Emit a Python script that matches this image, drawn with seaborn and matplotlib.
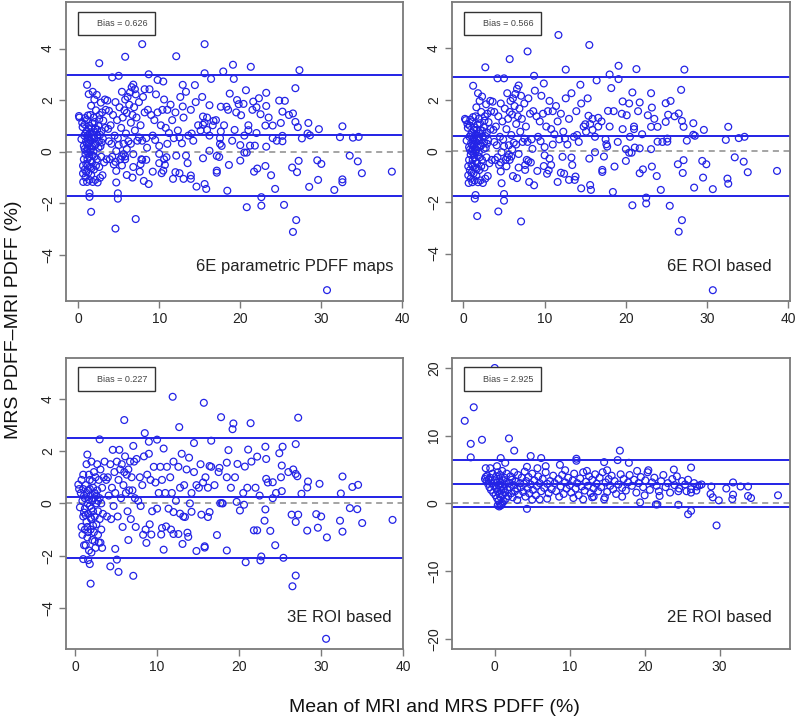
import matplotlib
matplotlib.use("Agg")
import matplotlib.pyplot as plt
from matplotlib.lines import Line2D
import seaborn as sns
import pandas as pd

# ---- data (mean PDFF, MRS - MRI difference) ----
panel_names = ["6E parametric PDFF maps", "6E ROI based", "3E ROI based", "2E ROI based"]
bias = [0.626, 0.566, 0.227, 2.925]
lower_loa = [-1.716, -1.77, -2.07, -0.49]
upper_loa = [2.968, 2.87, 2.52, 6.37]

pts_6e_maps = [
    (7.9, 4.17), (15.6, 4.17), (5.8, 3.68), (12.1, 3.70), (2.6, 3.43), (19.1, 3.37), (21.3, 3.29),
    (27.3, 3.16), (17.9, 3.11), (15.6, 3.04), (8.7, 3.0), (5.0, 2.94), (4.2, 2.88), (16.4, 2.82),
    (19.2, 2.82), (9.8, 2.78), (10.5, 2.72), (26.8, 2.46), (1.1, 2.59), (12.9, 2.59), (14.4, 2.58),
    (20.7, 2.38), (23.2, 2.28), (18.7, 2.25), (1.3, 2.23), (7.0, 2.42), (8.2, 2.42), (19.6, 2.0),
    (22.3, 2.07), (24.8, 1.98), (25.5, 1.97), (20.4, 1.85), (21.6, 1.94), (19.8, 1.84), (23.2, 1.77),
    (16.2, 1.80), (17.6, 1.74), (18.3, 1.74), (22.0, 1.72), (12.9, 1.75), (25.2, 1.55), (26.5, 1.48),
    (20.1, 1.41), (22.5, 1.45), (15.4, 1.36), (26.8, 1.15), (16.7, 1.19), (15.4, 1.04), (25.0, 1.11),
    (23.1, 1.01), (24.0, 1.01), (32.6, 0.98), (29.7, 0.87), (28.4, 1.11), (27.1, 0.95), (19.3, 0.84),
    (21.0, 0.83), (15.9, 0.84), (17.6, 0.78), (28.3, 0.70), (28.6, 0.63), (27.6, 0.51), (24.0, 0.52),
    (25.2, 0.61), (25.2, 0.40), (32.3, 0.56), (33.9, 0.54), (34.6, 0.57), (23.2, 0.19), (20.0, 0.25),
    (21.2, 0.23), (21.8, 0.23), (17.5, 0.30), (17.7, 0.22), (16.2, 0.03), (20.5, -0.04), (20.8, -0.04),
    (33.5, -0.16), (17.1, -0.17), (17.4, -0.21), (15.4, -0.26), (20.0, -0.35), (27.2, -0.36),
    (29.5, -0.34), (30.0, -0.48), (34.5, -0.38), (18.6, -0.52), (26.4, -0.62), (27.0, -0.80),
    (35.0, -0.84), (38.7, -0.78), (23.1, -0.56), (23.8, -0.92), (22.1, -0.66), (21.7, -0.78),
    (17.1, -0.74), (17.1, -0.82), (29.6, -1.10), (32.6, -1.08), (32.6, -1.19), (28.5, -1.37),
    (31.6, -1.49), (24.3, -1.45), (18.4, -1.52), (15.6, -1.26), (15.8, -1.45), (14.6, -1.36),
    (22.6, -1.77), (20.8, -2.16), (22.6, -2.10), (25.4, -2.07), (26.9, -2.66), (26.5, -3.12),
    (30.7, -5.38), (7.1, -2.62), (4.6, -2.99), (1.6, -2.34), (1.4, -1.62), (1.4, -1.76), (4.9, -1.62),
    (4.9, -1.83), (4.7, -1.2), (6.0, -0.91), (6.7, -1.01), (8.1, -1.14), (8.7, -1.26), (9.2, -0.78),
    (7.6, -0.78), (10.5, -0.74), (10.3, -0.84), (11.7, -1.06), (12.0, -0.80), (12.5, -0.84),
    (13.0, -1.06), (13.9, -0.93), (13.9, -1.06), (13.5, -0.45), (12.1, -0.16), (13.3, -0.16),
    (10.0, -0.09), (10.0, -0.45), (10.6, -0.30), (10.7, -0.52), (10.9, -0.22), (7.9, -0.32),
    (8.4, -0.32), (7.7, -0.49), (6.8, -0.10), (5.4, -0.19), (5.8, -0.19), (5.4, -0.54), (5.8, -0.30),
    (4.7, -0.75),
    (0.1, 1.38), (0.15, 1.32), (0.4, 0.48), (0.5, 1.12), (0.55, 0.95), (0.6, -0.55), (0.6, -0.85),
    (0.62, -1.18), (0.7, 0.22), (0.7, -0.3), (0.75, 0.62), (0.8, 1.05), (0.8, -0.7), (0.85, 1.3),
    (0.9, -0.1), (0.9, -1.0), (0.95, 0.38), (1.0, 0.02), (1.0, -0.48), (1.05, 1.22), (1.05, 0.8),
    (1.1, -1.18), (1.15, 0.1), (1.15, -0.3), (1.2, 1.4), (1.25, 0.6), (1.25, -0.82), (1.3, 0.3),
    (1.35, -0.2), (1.35, 1.0), (1.4, -1.1), (1.45, 0.7), (1.45, 0.0), (1.5, 1.42), (1.5, -0.6),
    (1.55, 0.42), (1.6, 1.78), (1.6, -0.9), (1.65, 0.9), (1.7, 0.2), (1.7, -0.42), (1.75, 1.1),
    (1.8, 2.32), (1.8, -1.18), (1.85, 0.6), (1.9, 0.0), (1.9, 1.32), (1.95, -0.7), (2.0, 2.02),
    (2.0, 0.5), (2.1, -1.1), (2.1, 0.9), (2.2, 1.6), (2.2, 0.3), (2.3, -0.3), (2.3, 2.2), (2.4, 0.62),
    (2.4, -1.2), (2.5, 1.0), (2.55, 0.4), (2.6, -0.6), (2.65, 1.42), (2.7, -1.02), (2.75, 0.2),
    (2.8, 1.9), (2.85, -0.2), (2.9, 0.8), (2.95, 1.52), (3.0, -0.92), (3.05, 0.5), (3.1, 1.2),
    (3.2, -0.42), (3.3, 2.02), (3.35, 0.92), (3.4, 1.62), (3.5, -0.3), (1.2, 0.5), (1.3, 0.9),
    (1.6, 0.1), (1.7, 0.55), (2.0, -0.2), (2.1, 0.25), (1.1, 0.3), (1.4, 0.45), (0.9, 0.7),
    (1.8, -0.15), (2.2, -0.55), (1.5, -0.35), (1.0, -0.8), (2.5, 0.15), (2.7, 0.65), (1.25, -0.05),
    (1.65, -0.65), (0.8, 0.1), (2.05, 1.15), (2.35, 0.85), (2.6, 1.25), (1.95, 0.75), (1.15, -0.55),
    (2.9, 0.35),
    (3.6, 1.98), (3.7, 0.88), (3.8, 1.58), (3.9, -0.3), (4.0, 1.02), (4.1, 0.3), (4.3, 1.42),
    (4.4, -0.5), (4.5, 0.62), (4.6, 1.92), (4.7, 0.02), (4.8, 1.22), (4.9, 0.52), (5.1, 1.72),
    (5.2, -0.3), (5.3, 0.92), (5.4, 2.32), (5.5, 1.32), (5.6, 0.3), (5.7, 1.6), (5.8, 2.02), (5.9, 0.7),
    (6.0, 1.5), (6.1, 2.12), (6.2, 0.4), (6.3, 1.82), (6.4, 2.3), (6.5, 1.12), (6.6, 2.5), (6.7, 1.42),
    (6.8, 2.6), (6.9, 1.72), (7.0, 0.82), (7.1, 2.22), (7.2, 1.32), (7.3, 0.42), (7.5, 1.92),
    (7.7, 1.02), (7.9, 0.42), (8.0, 2.12), (8.2, 1.52), (8.4, 0.52), (8.6, 1.62), (8.8, 2.42),
    (9.0, 1.42), (9.2, 0.62), (9.4, 1.22), (9.6, 2.22), (9.8, 1.52), (10.0, 0.22), (10.2, 1.02),
    (10.4, 1.62), (10.6, 2.02), (10.8, 0.92), (11.0, 1.62), (11.2, 0.72), (11.4, 1.82), (11.6, 1.22),
    (11.8, 0.52), (12.0, 1.52), (12.3, 0.82), (12.6, 2.12), (12.8, 0.32), (13.0, 1.32), (13.3, 2.32),
    (13.6, 0.62), (13.9, 1.62), (14.2, 0.42), (14.5, 1.92), (14.8, 1.02), (15.1, 0.82), (15.3, 2.12),
    (15.6, 1.12), (15.9, 1.32), (16.2, 0.62), (16.6, 1.02), (17.0, 1.22), (17.5, 0.52), (18.0, 1.02),
    (18.5, 1.62), (19.0, 0.42), (19.5, 1.52), (20.5, 0.62), (21.0, 1.02), (21.5, 1.62), (22.0, 0.72),
    (23.5, 1.32), (24.5, 0.42), (26.0, 1.42), (5.0, 0.25), (6.5, 0.3), (7.5, 0.55), (8.5, 0.15),
    (9.5, 0.45), (11.0, 0.3), (12.5, 0.55), (14.0, 0.7), (3.8, 0.4), (4.2, -0.2), (4.6, -0.4),
    (5.6, -0.1), (6.0, 0.1), (6.8, -0.6), (7.8, -0.3),
]

pts_6e_roi = [
    (11.7, 4.52), (15.5, 4.13), (7.9, 3.88), (5.7, 3.58), (2.7, 3.26), (19.1, 3.32), (12.6, 3.17),
    (21.3, 3.19), (27.2, 3.17), (18.0, 2.98), (8.7, 2.93), (4.2, 2.83), (5.0, 2.83), (16.4, 2.75),
    (19.1, 2.80), (9.9, 2.63), (26.8, 2.38), (1.2, 2.54), (14.4, 2.58), (20.8, 2.28), (23.1, 2.25),
    (18.2, 2.45), (24.9, 1.86), (25.5, 1.95), (21.7, 1.89), (19.6, 1.93), (20.4, 1.85), (23.2, 1.69),
    (17.8, 1.56), (26.5, 1.46), (25.2, 1.41), (20.1, 1.39), (22.7, 1.39), (15.4, 1.37), (26.9, 1.17),
    (16.6, 1.29), (15.0, 1.04), (24.9, 1.13), (23.1, 0.94), (23.9, 0.94), (32.6, 0.94), (29.6, 0.82),
    (28.3, 1.08), (27.1, 0.94), (19.6, 0.85), (21.0, 0.85), (15.9, 0.82), (28.3, 0.63), (28.5, 0.59),
    (27.5, 0.40), (23.9, 0.36), (25.1, 0.48), (25.1, 0.36), (32.3, 0.43), (33.9, 0.50), (34.6, 0.55),
    (23.1, 0.07), (20.0, 0.07), (21.1, 0.13), (21.7, 0.10), (17.6, 0.26), (17.7, 0.17), (16.2, -0.05),
    (20.4, -0.07), (20.7, -0.07), (33.4, -0.25), (17.3, -0.22), (15.5, -0.30), (20.0, -0.39),
    (27.1, -0.36), (29.4, -0.39), (29.9, -0.52), (34.5, -0.42), (18.6, -0.61), (26.4, -0.52),
    (27.0, -0.86), (35.0, -0.83), (38.6, -0.78), (23.2, -0.61), (23.8, -0.98), (22.1, -0.72),
    (21.7, -0.87), (17.1, -0.74), (17.1, -0.82), (29.5, -1.04), (32.5, -1.08), (32.6, -1.28),
    (28.4, -1.43), (30.7, -1.49), (24.3, -1.52), (18.4, -1.60), (15.6, -1.33), (15.7, -1.52),
    (14.5, -1.46), (22.5, -1.82), (20.8, -2.12), (22.5, -2.05), (25.4, -2.14), (26.9, -2.70),
    (26.5, -3.15), (30.7, -5.43), (7.1, -2.75), (4.3, -2.36), (1.7, -2.54), (1.5, -1.72), (1.4, -1.86),
    (5.0, -1.68), (5.0, -1.94), (4.7, -1.26), (6.1, -0.98), (6.6, -1.06), (8.1, -1.21), (8.7, -1.34),
    (9.1, -0.78), (7.6, -0.74), (10.5, -0.76), (10.3, -0.89), (11.6, -1.21), (12.0, -0.85),
    (12.4, -0.89), (13.0, -1.13), (13.8, -1.00), (13.7, -1.13), (13.4, -0.55), (12.2, -0.23),
    (13.3, -0.26), (10.0, -0.17), (9.9, -0.59), (10.6, -0.30), (10.8, -0.55), (8.0, -0.40),
    (8.3, -0.45), (7.6, -0.55), (6.8, -0.12), (5.4, -0.25), (5.9, -0.22), (5.3, -0.60), (5.7, -0.35),
    (4.6, -0.80),
    (0.2, 1.25), (0.3, 1.2), (0.4, 0.4), (0.5, 1.05), (0.55, 0.9), (0.6, -0.6), (0.6, -0.95),
    (0.65, -1.25), (0.7, 0.15), (0.7, -0.35), (0.75, 0.55), (0.8, 0.98), (0.8, -0.75), (0.85, 1.22),
    (0.9, -0.15), (0.9, -1.08), (0.95, 0.3), (1.0, -0.02), (1.0, -0.52), (1.05, 1.15), (1.05, 0.72),
    (1.1, -1.22), (1.15, 0.05), (1.15, -0.35), (1.2, 1.32), (1.25, 0.52), (1.25, -0.88), (1.3, 0.22),
    (1.35, -0.25), (1.35, 0.92), (1.4, -1.15), (1.45, 0.62), (1.45, -0.05), (1.5, 1.35), (1.5, -0.65),
    (1.55, 0.35), (1.6, 1.7), (1.6, -0.95), (1.65, 0.82), (1.7, 0.15), (1.7, -0.48), (1.75, 1.02),
    (1.8, 2.25), (1.8, -1.22), (1.85, 0.52), (1.9, -0.05), (1.9, 1.25), (1.95, -0.75), (2.0, 1.95),
    (2.0, 0.42), (2.1, -1.15), (2.1, 0.82), (2.2, 1.52), (2.2, 0.22), (2.3, -0.35), (2.3, 2.12),
    (2.4, 0.55), (2.4, -1.25), (2.5, 0.92), (2.55, 0.32), (2.6, -0.65), (2.65, 1.35), (2.7, -1.08),
    (2.75, 0.12), (2.8, 1.82), (2.85, -0.25), (2.9, 0.72), (2.95, 1.45), (3.0, -0.98), (3.05, 0.42),
    (3.1, 1.12), (3.2, -0.48), (3.3, 1.95), (3.35, 0.85), (3.4, 1.55), (3.5, -0.35), (1.2, 0.42),
    (1.3, 0.82), (1.6, 0.05), (1.7, 0.48), (2.0, -0.25), (2.1, 0.18), (1.1, 0.22), (1.4, 0.38),
    (0.9, 0.62), (1.8, -0.2), (2.2, -0.6), (1.5, -0.4), (1.0, -0.85), (2.5, 0.08), (2.7, 0.58),
    (1.25, -0.1), (1.65, -0.7), (0.8, 0.05), (2.05, 1.08), (2.35, 0.78), (2.6, 1.18), (1.95, 0.68),
    (1.15, -0.6), (2.9, 0.28),
    (3.6, 1.92), (3.7, 0.82), (3.8, 1.52), (3.9, -0.35), (4.0, 0.95), (4.1, 0.22), (4.3, 1.35),
    (4.4, -0.55), (4.5, 0.55), (4.6, 1.85), (4.7, -0.05), (4.8, 1.15), (4.9, 0.45), (5.1, 1.65),
    (5.2, -0.35), (5.3, 0.85), (5.4, 2.25), (5.5, 1.25), (5.6, 0.22), (5.7, 1.52), (5.8, 1.95),
    (5.9, 0.62), (6.0, 1.42), (6.1, 2.05), (6.2, 0.32), (6.3, 1.75), (6.4, 2.22), (6.5, 1.05),
    (6.6, 2.42), (6.7, 1.35), (6.8, 2.55), (6.9, 1.65), (7.0, 0.75), (7.1, 2.15), (7.2, 1.25),
    (7.3, 0.35), (7.5, 1.85), (7.7, 0.95), (7.9, 0.35), (8.0, 2.05), (8.2, 1.45), (8.4, 0.45),
    (8.6, 1.55), (8.8, 2.35), (9.0, 1.35), (9.2, 0.55), (9.4, 1.15), (9.6, 2.15), (9.8, 1.45),
    (10.0, 0.15), (10.2, 0.95), (10.4, 1.55), (10.6, 1.95), (10.8, 0.85), (11.0, 1.55), (11.2, 0.65),
    (11.4, 1.75), (11.6, 1.15), (11.8, 0.45), (12.0, 1.45), (12.3, 0.75), (12.6, 2.05), (12.8, 0.25),
    (13.0, 1.25), (13.3, 2.25), (13.6, 0.55), (13.9, 1.55), (14.2, 0.35), (14.5, 1.85), (14.8, 0.95),
    (15.1, 0.75), (15.3, 2.05), (15.6, 1.05), (15.9, 1.25), (16.2, 0.55), (16.6, 0.95), (17.0, 1.15),
    (17.5, 0.45), (18.0, 0.95), (18.5, 1.55), (19.0, 0.35), (19.5, 1.45), (20.5, 0.55), (21.0, 0.95),
    (21.5, 1.55), (22.0, 0.65), (23.5, 1.25), (24.5, 0.35), (26.0, 1.35), (5.0, 0.18), (6.5, 0.25),
    (7.5, 0.48), (8.5, 0.08), (9.5, 0.38), (11.0, 0.25), (12.5, 0.48), (14.0, 0.62), (3.8, 0.35),
    (4.2, -0.25), (4.6, -0.45), (5.6, -0.15), (6.0, 0.05), (6.8, -0.65), (7.8, -0.35),
]

pts_3e_roi = [
    (11.9, 4.08), (15.7, 3.85), (6.0, 3.19), (12.7, 2.92), (17.8, 3.30), (19.3, 3.06), (19.2, 2.84),
    (21.4, 3.07), (27.2, 3.28), (8.5, 2.69), (3.0, 2.45), (10.0, 2.44), (9.0, 2.36), (16.6, 2.40),
    (14.5, 2.31), (26.9, 2.27), (25.3, 2.17), (23.2, 2.17), (1.5, 1.87), (21.1, 2.06), (18.7, 2.04),
    (24.9, 1.92), (19.8, 1.51), (23.3, 1.70), (22.2, 1.79), (25.2, 1.45), (18.5, 1.56), (20.7, 1.41),
    (17.6, 1.36), (16.4, 1.43), (26.6, 1.30), (26.9, 1.13), (27.1, 1.04), (32.6, 1.03), (28.4, 0.84),
    (29.8, 0.75), (34.5, 0.71), (33.8, 0.63), (25.1, 1.00), (23.3, 0.94), (24.1, 0.81), (28.3, 0.61),
    (27.6, 0.37), (32.4, 0.38), (25.2, 0.47), (24.1, 0.20), (19.7, 0.06), (17.7, 0.01), (17.9, 0.01),
    (33.5, -0.18), (34.4, -0.22), (26.4, -0.43), (27.2, -0.43), (29.4, -0.41), (30.0, -0.50),
    (35.0, -0.75), (38.7, -0.63), (26.9, -0.71), (20.1, -0.27), (20.6, -0.05), (23.2, -0.23),
    (23.1, -0.66), (23.8, -1.05), (21.8, -1.03), (22.2, -1.03), (28.3, -1.04), (29.6, -0.93),
    (32.3, -0.66), (32.6, -1.08), (30.7, -1.30), (24.4, -1.60), (18.5, -1.80), (17.3, -1.21),
    (15.8, -1.64), (15.8, -1.69), (14.8, -1.82), (13.1, -1.55), (20.8, -2.25), (22.6, -2.18),
    (22.7, -2.03), (25.4, -2.08), (26.9, -2.76), (26.5, -3.17), (30.6, -5.18), (7.1, -2.77),
    (4.3, -2.41), (5.3, -2.62), (1.9, -3.07), (2.0, -1.88), (1.0, -2.13), (1.6, -2.17), (1.8, -2.32),
    (4.9, -1.74), (5.1, -2.15), (8.7, -1.51), (10.8, -1.77), (9.3, -1.19), (10.5, -1.19),
    (12.0, -1.17), (12.6, -1.17), (13.7, -1.12), (13.8, -1.28), (10.6, -0.94), (11.1, -0.88),
    (12.0, -0.33), (12.8, -0.39), (13.4, -0.52), (14.2, -0.32), (15.4, -0.43), (16.2, -0.52),
    (16.4, -0.33),
    (0.4, 0.72), (0.5, 0.55), (0.6, -0.15), (0.7, 0.4), (0.8, -0.9), (0.8, 0.9), (0.9, -1.2), (0.9, 0.1),
    (1.0, -0.5), (1.0, 1.1), (1.1, -1.6), (1.1, 0.3), (1.2, -0.2), (1.2, -1.0), (1.3, 0.7), (1.3, -1.6),
    (1.4, 1.5), (1.4, -0.7), (1.5, 0.0), (1.5, -1.3), (1.6, 0.5), (1.6, -0.4), (1.7, 1.1), (1.7, -1.8),
    (1.8, -0.1), (1.8, 0.9), (1.9, -1.0), (1.9, 0.3), (2.0, -0.6), (2.0, 1.6), (2.1, -1.4), (2.1, 0.1),
    (2.2, 0.6), (2.2, -0.3), (2.3, 1.2), (2.3, -1.1), (2.4, -0.5), (2.4, 0.4), (2.5, -1.7), (2.5, 1.0),
    (2.6, 0.0), (2.6, -0.8), (2.7, 1.5), (2.7, 0.5), (2.8, -0.3), (2.8, -1.2), (2.9, 0.9), (3.0, 0.2),
    (3.0, -0.6), (3.1, 1.3), (3.2, -1.0), (3.2, 0.0), (3.3, 0.6), (3.4, -0.4), (3.5, 1.0), (1.2, 0.2),
    (1.4, 0.4), (1.7, 0.15), (2.0, -0.2), (2.3, 0.2), (1.1, -0.35), (1.5, -0.9), (1.9, -0.55),
    (2.6, 0.3), (2.2, -0.85), (1.0, 0.55), (1.3, -0.45), (1.6, -1.1), (2.8, 0.1), (2.4, -1.45),
    (1.8, 0.55), (2.1, 0.85), (3.1, -1.5), (3.3, -1.7), (2.9, -1.5),
    (3.6, 1.6), (3.8, 0.9), (3.9, -0.5), (4.0, 1.0), (4.1, 0.3), (4.3, 1.5), (4.4, -0.6), (4.5, 0.6),
    (4.6, 2.05), (4.7, -0.1), (4.8, 1.2), (4.9, 0.4), (5.1, 1.6), (5.2, -0.5), (5.3, 0.9), (5.4, 2.05),
    (5.5, 1.3), (5.6, 0.2), (5.7, 1.5), (5.8, -0.9), (5.9, 0.7), (6.0, 1.2), (6.1, 1.8), (6.2, 0.4),
    (6.3, 1.1), (6.4, -0.3), (6.5, 1.3), (6.6, 0.5), (6.7, 1.6), (6.8, -0.6), (6.9, 1.0), (7.0, 0.5),
    (7.1, 2.2), (7.2, 1.6), (7.3, 0.2), (7.5, 1.7), (7.7, 0.1), (7.9, 1.0), (8.0, -0.1), (8.2, 0.7),
    (8.4, 1.8), (8.6, -1.0), (8.8, 1.1), (9.0, 1.9), (9.2, 0.9), (9.4, -0.3), (9.6, 1.4), (9.8, 0.8),
    (10.0, -0.2), (10.2, 0.4), (10.4, 1.4), (10.6, 0.9), (10.8, 2.1), (11.0, 0.4), (11.2, 1.4),
    (11.4, -0.2), (11.6, 1.0), (11.8, 0.4), (12.0, 1.6), (12.3, 0.1), (12.6, 1.4), (12.8, 0.6),
    (13.0, 1.9), (13.3, 0.7), (13.6, 1.3), (13.9, 1.75), (14.2, 0.4), (14.5, 1.2), (14.8, 0.7),
    (15.1, 0.6), (15.3, 1.5), (15.6, 0.8), (15.9, 1.0), (16.2, 0.6), (16.6, 1.4), (17.0, 0.7),
    (17.5, 1.2), (18.0, 0.0), (18.5, 1.0), (19.0, 0.6), (19.5, 1.0), (20.5, 0.4), (21.0, 0.6),
    (21.5, 1.6), (22.0, 0.6), (22.5, 0.3), (23.5, 0.8), (24.5, 0.4), (26.0, 1.2), (6.5, -1.4),
    (7.4, -0.9), (8.3, -1.2), (9.1, -0.8), (11.7, -1.0), (13.2, -0.5), (14.0, 0.0),
]

pts_2e_roi = [
    (0.0, 20.0), (-2.8, 14.2), (-4.0, 12.2), (-3.2, 8.8), (-1.7, 9.4), (1.9, 9.6), (2.6, 7.8),
    (-3.2, 6.8), (16.7, 7.8), (4.8, 7.0), (6.2, 6.7), (0.8, 6.7), (1.4, 6.0), (10.9, 6.6), (10.9, 6.3),
    (14.6, 6.1), (16.4, 6.4), (17.9, 6.0), (8.7, 5.7), (26.2, 5.3), (-1.2, 5.2), (-0.6, 5.2),
    (0.3, 5.5), (4.3, 5.4), (6.8, 5.5), (23.9, 5.0), (20.5, 4.9), (29.6, -3.25), (25.8, -1.6),
    (26.2, -1.1), (4.3, -0.8), (0.6, -0.45), (0.8, -0.3), (19.4, 0.15), (21.5, -0.15), (21.7, -0.15),
    (24.5, -0.2), (29.9, 0.45), (37.8, 1.2), (34.2, 0.8), (33.8, 1.1), (31.7, 0.65), (31.8, 1.3),
    (30.9, 2.2), (32.8, 2.5), (33.8, 2.5), (31.8, 3.1), (28.8, 1.4), (29.1, 0.9), (28.9, 2.5),
    (27.3, 2.65), (27.6, 2.8), (26.9, 1.9), (25.6, 1.8), (26.2, 1.6), (24.5, 1.8), (14.6, 0.6),
    (14.7, 0.9), (13.2, 1.0), (11.8, 0.6), (7.0, 0.7), (5.0, 0.55),
    (-1.3, 3.6), (-1.2, 3.9), (-1.1, 3.3), (-1.0, 4.1), (-0.9, 2.9), (-0.8, 3.5), (-0.7, 2.4),
    (-0.6, 3.8), (-0.5, 2.0), (-0.4, 3.0), (-0.3, 4.4), (-0.2, 1.6), (-0.1, 2.6), (0.0, 3.4),
    (0.1, 1.2), (0.2, 4.0), (0.2, 2.2), (0.3, 0.8), (0.3, 3.1), (0.4, 1.8), (0.4, 4.6), (0.5, 2.7),
    (0.5, 0.4), (0.6, 3.6), (0.6, 1.4), (0.7, 2.3), (0.7, 4.2), (0.8, 0.9), (0.8, 3.0), (0.9, 1.9),
    (0.9, -0.2), (1.0, 2.6), (1.0, 4.8), (1.1, 1.3), (1.1, 3.4), (1.2, 0.3), (1.2, 2.1), (1.3, 3.8),
    (1.4, 1.6), (1.4, 2.8), (1.5, 0.7), (1.6, 3.2), (1.6, 4.4), (1.7, 2.0), (1.8, 1.1), (1.9, 3.0),
    (2.0, 2.4), (2.1, 4.0), (2.2, 1.5), (2.3, 3.5), (2.4, 0.9), (2.5, 2.7), (2.6, 4.6), (2.7, 1.8),
    (2.8, 3.2), (3.0, 2.2), (3.1, 4.2), (3.2, 1.3), (3.4, 3.0), (3.5, 2.4), (3.6, 3.8), (3.8, 1.7),
    (3.9, 2.9), (4.0, 4.7), (4.1, 1.0), (4.2, 3.3), (4.4, 2.2), (4.5, 3.9), (4.6, 1.5), (4.8, 2.8),
    (5.0, 4.4), (5.1, 2.0), (5.3, 3.4), (5.5, 1.2), (5.6, 2.6), (5.8, 4.0), (6.0, 3.0), (6.2, 1.8),
    (6.4, 3.6), (6.6, 2.3), (6.8, 4.6), (7.0, 2.9), (7.2, 1.5), (7.4, 3.3), (7.6, 2.1), (7.8, 4.1),
    (8.0, 3.0), (8.2, 1.8), (8.5, 3.6), (8.8, 2.5), (9.0, 4.2), (9.2, 1.4), (9.4, 3.1), (9.6, 2.2),
    (9.8, 3.8), (10.0, 2.7), (10.2, 1.6), (10.4, 3.4), (10.6, 4.4), (10.8, 2.2), (11.0, 3.0),
    (11.2, 1.2), (11.4, 3.7), (11.6, 2.5), (11.8, 4.6), (12.0, 1.9), (12.2, 3.2), (12.4, 2.6),
    (12.6, 4.0), (12.8, 1.5), (13.0, 3.5), (13.2, 2.2), (13.4, 4.3), (13.6, 2.9), (13.8, 1.8),
    (14.0, 3.8), (14.2, 2.4), (14.4, 4.6), (14.8, 3.1), (15.0, 1.7), (15.2, 3.6), (15.4, 2.6),
    (15.6, 4.1), (15.8, 2.1), (16.0, 3.3), (16.2, 1.4), (16.5, 2.8), (16.8, 4.3), (17.0, 2.3),
    (17.2, 3.6), (17.5, 1.9), (17.8, 3.1), (18.0, 4.2), (18.3, 2.6), (18.6, 3.5), (18.9, 1.6),
    (19.2, 3.0), (19.5, 3.9), (19.8, 2.4), (20.1, 3.4), (20.4, 4.6), (20.7, 2.0), (21.0, 3.1),
    (21.3, 3.8), (21.6, 2.6), (21.9, 1.8), (22.2, 3.3), (22.5, 4.2), (22.8, 2.4), (23.1, 3.0),
    (23.4, 1.6), (23.7, 3.6), (24.0, 2.7), (24.3, 4.0), (24.6, 2.2), (25.0, 3.3), (25.4, 2.8),
    (25.8, 3.5), (26.2, 2.1), (26.6, 3.0), (27.0, 2.5), (5.7, 5.2), (9.4, 4.9), (12.3, 4.8),
    (15.0, 4.9), (19.0, 4.8), (10.5, 0.8), (13.0, 0.9), (17.0, 1.0), (20.0, 1.2), (22.0, 1.1),
    (8.6, 1.0), (6.0, 0.6), (3.0, 0.5), (1.0, 0.1), (0.4, -0.3),
]

panel_points = [pts_6e_maps, pts_6e_roi, pts_3e_roi, pts_2e_roi]

# ---- layout / style ----
BLUE = "#2323e6"
FRAME = "#7a7a7a"
axes_rects = [
    [0.0825, 0.582, 0.4215, 0.415],
    [0.565, 0.582, 0.4225, 0.415],
    [0.0825, 0.0986, 0.4215, 0.4044],
    [0.565, 0.0986, 0.4225, 0.4044],
]
xlims = [(-1.5, 40.1), (-1.4, 40.2), (-1.1, 40.0), (-5.7, 39.4)]
ylims = [(-5.8, 5.8), (-5.85, 5.8), (-5.57, 5.57), (-21.5, 21.5)]
xticks = [[0, 10, 20, 30, 40]] * 3 + [[0, 10, 20, 30]]
yticks = [[-4, -2, 0, 2, 4]] * 3 + [[-20, -10, 0, 10, 20]]
name_pos = [(0.97, 0.114), (0.946, 0.114), (0.966, 0.107), (0.946, 0.107)]

sns.set_style("ticks")
plt.rcParams["font.family"] = ["Liberation Sans", "DejaVu Sans"]

fig = plt.figure(figsize=(8, 7.2), dpi=100)

for i, pts in enumerate(panel_points):
    ax = fig.add_axes(axes_rects[i])
    df = pd.DataFrame(pts, columns=["mean", "diff"])

    ax.axhline(0, color="#8c8c8c", lw=1.1, ls=(0, (4, 3)), zorder=1)
    for yv in (upper_loa[i], bias[i], lower_loa[i]):
        ax.axhline(yv, color=BLUE, lw=1.4, zorder=2)

    sns.scatterplot(data=df, x="mean", y="diff", ax=ax, marker="o", s=24,
                    color=BLUE, facecolor="none", edgecolor=BLUE, linewidth=0.9,
                    legend=False, zorder=3)

    ax.set_xlim(*xlims[i])
    ax.set_ylim(*ylims[i])
    ax.set_xticks(xticks[i])
    ax.set_yticks(yticks[i])
    ax.set_xlabel("")
    ax.set_ylabel("")
    ax.tick_params(axis="both", direction="out", length=5, width=1.0, color=FRAME,
                   labelsize=10, labelcolor="#222222", pad=3)
    for lab in ax.get_yticklabels():
        lab.set_rotation(90)
        lab.set_va("center")
    for sp in ax.spines.values():
        sp.set_color(FRAME)
        sp.set_linewidth(1.3)

    leg = ax.legend(handles=[Line2D([], [], linestyle="none")],
                    labels=[f"Bias = {bias[i]:.3f}"],
                    loc="upper left", bbox_to_anchor=(0.036, 0.967), borderaxespad=0,
                    fontsize=6.5, frameon=True, fancybox=False, framealpha=1,
                    edgecolor="#333333", handlelength=1.0, handletextpad=0.3,
                    borderpad=0.8)
    leg.get_frame().set_linewidth(1.0)
    for t in leg.get_texts():
        t.set_color("#444444")

    ax.text(name_pos[i][0], name_pos[i][1], panel_names[i], transform=ax.transAxes,
            ha="right", va="center", fontsize=12, color="#222222")

fig.text(0.5425, 0.018, "Mean of MRI and MRS PDFF (%)", ha="center", va="center",
         fontsize=14, color="#111111")
fig.text(0.0175, 0.556, "MRS PDFF\u2013MRI PDFF (%)", ha="center", va="center",
         rotation=90, fontsize=14, color="#111111")

fig.savefig("out.png", dpi=100)
